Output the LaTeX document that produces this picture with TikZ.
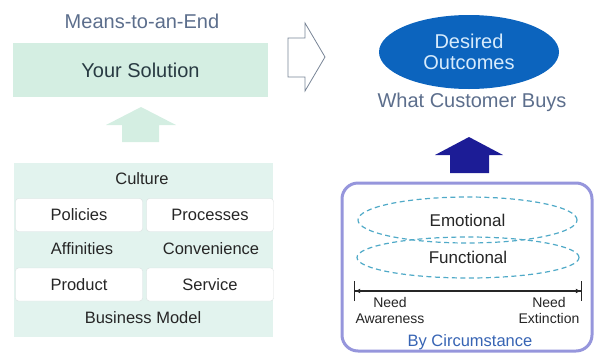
\documentclass[tikz,border=0pt]{standalone}
\usepackage{fontspec}
\setmainfont{Liberation Sans}
\usepackage{xcolor}
\usepackage{tikz}
\usetikzlibrary{shapes}
\usetikzlibrary{shapes.geometric}
\usetikzlibrary{arrows.meta}
\usetikzlibrary{positioning}
\definecolor{mintbox}{RGB}{212,238,226}
\definecolor{mintlight}{RGB}{226,243,238}
\definecolor{cellline}{RGB}{218,224,224}
\definecolor{meansgray}{RGB}{92,110,140}
\definecolor{solgray}{RGB}{40,58,66}
\definecolor{outblue}{RGB}{12,100,190}
\definecolor{outtext}{RGB}{215,235,252}
\definecolor{darkarrow}{RGB}{28,28,150}
\definecolor{circline}{RGB}{150,150,220}
\definecolor{dashblue}{RGB}{80,170,200}
\definecolor{circtext}{RGB}{55,100,180}
\definecolor{hollowgray}{RGB}{120,132,150}
\newcommand{\headfont}{\fontsize{20}{21}\selectfont}
\newcommand{\cellfont}{\fontsize{16.5}{18}\selectfont}
\newcommand{\ellfont}{\fontsize{17}{18}\selectfont}
\newcommand{\tinyfont}{\fontsize{14}{16}\selectfont}
\tikzset{
    solbox/.style = {rectangle, fill=mintbox, minimum width=255pt, minimum height=54pt, inner sep=0pt, font=\headfont, text=solgray},
    blockbg/.style = {rectangle, fill=mintlight, minimum width=259pt, minimum height=174pt, inner sep=0pt},
    cellbox/.style = {rectangle, rounded corners=3pt, draw=cellline, fill=white, minimum width=127pt, minimum height=33pt, inner sep=0pt, font=\cellfont, text=black!85},
    rowtext/.style = {font=\cellfont, text=black!85},
    dashell/.style = {ellipse, draw=dashblue, line width=1.2pt, dash pattern=on 5pt off 3.5pt, inner sep=0pt, font=\ellfont, text=black!85},
}
\begin{document}
\begin{tikzpicture}[
	x=1pt,
	y=-1pt,
	font=\cellfont
]
\tikzset{
    circbox/.style = {rectangle, rounded corners=16pt, draw=circline, line width=3pt, fill=white, minimum width=250pt, minimum height=168pt},
    spanline/.style = {line width=1.2pt, black!85, {Bar[width=20pt]Latex[length=5pt,width=5pt]}-{Latex[length=5pt,width=5pt]Bar[width=20pt]}}
}
\useasboundingbox (0,0) rectangle (597,354);
% left side
\node[font=\headfont, text=meansgray] (means) at (142,21) {Means-to-an-End};
\node[solbox] (sol) at (140.5,70) {Your Solution};
\fill[mintbox] (106,125) -- (141,107) -- (176,125) -- (159,125) -- (159,142) -- (122,142) -- (122,125) -- cycle;
%
\node[blockbg] (bm) at (143.5,250) {};
\node[rowtext] (cult) at (142,179) {Culture};
\node[cellbox] (pol) at (79,215) {Policies};
\node[cellbox] (proc) at (210,215) {Processes};
\node[rowtext] (aff) at (82,249) {Affinities};
\node[rowtext] (conv) at (211,249) {Convenience};
\node[cellbox] (prod) at (79,284.5) {Product};
\node[cellbox] (serv) at (210,284.5) {Service};
\node[rowtext] (bmod) at (143,318) {Business Model};
% middle
\draw[hollowgray, line width=0.8pt] (288,38) -- (305,38) -- (305,23) -- (325,57) -- (305,91) -- (305,77) -- (288,77) -- cycle;
% right side
\node[ellipse, fill=outblue, minimum width=180pt, minimum height=74pt, inner sep=0pt, font=\headfont, text=outtext, align=center] (outc) at (469,52) {Desired\\Outcomes};
\node[font=\headfont, text=meansgray] (buys) at (472,102) {What Customer Buys};
\fill[darkarrow] (435,155) -- (469,137) -- (503,155) -- (489,155) -- (489,173) -- (450,173) -- (450,155) -- cycle;
%
\node[circbox] (circ) at (467,267) {};
\node[dashell, minimum width=219pt, minimum height=46pt] (emo) at (467.5,220) {Emotional};
\node[dashell, minimum width=222pt, minimum height=41pt] (func) at (468,257.5) {Functional};
\coordinate (aw) at (354,291);
\coordinate (ex) at (582,291);
\draw[spanline] (aw) -- (ex);
\node[font=\tinyfont, text=black!85, align=center] (needa) at (390,310) {Need\\Awareness};
\node[font=\tinyfont, text=black!85, align=center] (neede) at (549,310) {Need\\Extinction};
\node[font=\cellfont, text=circtext] (bycirc) at (470,342) {By Circumstance};
\end{tikzpicture}
\end{document}
